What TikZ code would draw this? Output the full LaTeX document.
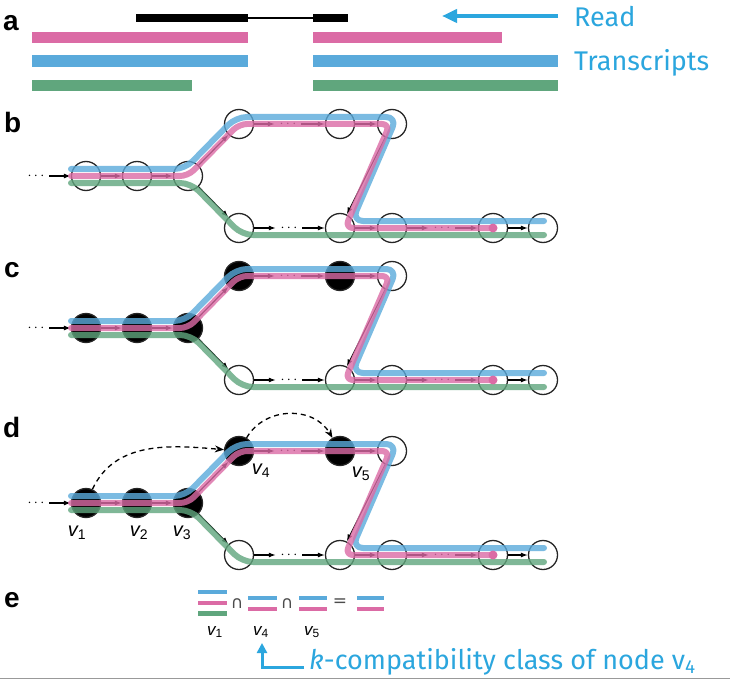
\documentclass[tikz,border=0pt]{standalone}
\usepackage{fontspec}
\setmainfont{Fira Sans}
\newfontfamily\hv{Liberation Sans}
\newfontfamily\dv{DejaVu Sans}
\usetikzlibrary{arrows.meta}
\definecolor{cpink}{RGB}{219,107,165}
\definecolor{cblue}{RGB}{90,170,219}
\definecolor{cgreen}{RGB}{96,166,125}
\definecolor{ctext}{RGB}{43,166,222}
\tikzset{
  gnode/.style={circle,draw=black!85,line width=1.3pt,minimum size=29pt,inner sep=0pt},
  fnode/.style={gnode,fill=black},
  arr/.style={line width=1.1pt,-{Latex[length=7pt,width=5pt]}},
  dotsnode/.style={inner sep=0pt,minimum width=26pt,minimum height=8pt,font=\fontsize{15}{15}\selectfont},
  track/.style={line width=6pt,line cap=round,line join=round,rounded corners=11pt,opacity=0.8},
  plabel/.style={font=\hv\bfseries\fontsize{28}{30}\selectfont,anchor=base west,inner sep=0pt},
  vlab/.style={font=\hv\itshape\fontsize{20}{20}\selectfont,inner sep=0pt},
  elab/.style={font=\hv\itshape\fontsize{17}{17}\selectfont,inner sep=0pt},
  bluetext/.style={font=\fontsize{27}{30}\selectfont,text=ctext,anchor=base west,inner sep=0pt},
  dasharr/.style={line width=1.3pt,dash pattern=on 5pt off 4pt,-{Stealth[length=9pt,width=7pt]}},
  minibar/.style={line width=4.5pt},
  symb/.style={font=\dv\fontsize{17}{17}\selectfont,inner sep=0pt,text=black!70},
}
\newcommand\gpanel[3]{%
\begin{scope}[shift={(0,#2)}]
  \node[#3] (#1n1) at (86,0) {};
  \node[#3] (#1n2) at (137,0) {};
  \node[#3] (#1n3) at (188,0) {};
  \node[#3] (#1t1) at (239,-52) {};
  \node[#3] (#1t2) at (340,-52) {};
  \node[gnode] (#1t3) at (392,-52) {};
  \node[gnode] (#1u1) at (239,52) {};
  \node[gnode] (#1u2) at (340,52) {};
  \node[gnode] (#1u3) at (392,52) {};
  \node[gnode] (#1u4) at (493,52) {};
  \node[gnode] (#1u5) at (543,52) {};
  \node[inner sep=0pt,font=\fontsize{15}{15}\selectfont] (#1d0) at (36,0) {$\cdots$};
  \coordinate (#1s0) at (49,0);
  \node[dotsnode] (#1dt) at (288,-52) {$\cdots$};
  \node[dotsnode] (#1du) at (289,52) {$\cdots$};
  \node[dotsnode] (#1dv) at (442,52) {$\cdots$};
  \draw[arr] (#1s0) -- (#1n1);
  \draw[arr] (#1n1) -- (#1n2);
  \draw[arr] (#1n2) -- (#1n3);
  \draw[arr] (#1n3) -- (#1t1);
  \draw[arr] (#1n3) -- (#1u1);
  \draw[arr] (#1t1) -- (#1dt.west);
  \draw[arr] (#1dt.east) -- (#1t2);
  \draw[arr] (#1t2) -- (#1t3);
  \draw[arr] (#1t3) -- (#1u2);
  \draw[arr] (#1u1) -- (#1du.west);
  \draw[arr] (#1du.east) -- (#1u2);
  \draw[arr] (#1u2) -- (#1u3);
  \draw[arr] (#1u3) -- (#1dv.west);
  \draw[arr] (#1dv.east) -- (#1u4);
  \draw[arr] (#1u4) -- (#1u5);
  \draw[track,cgreen] (71,7) -- (191,7) -- (242,59) -- (544,59);
  \draw[track,cblue] (71,-7) -- (185,-7) -- (236,-59) -- (397,-59) -- (352,45) -- (544,45);
  \draw[track,cpink,rounded corners=8pt] (71,0) -- (188,0) -- (239,-52) -- (390,-52) -- (345,52) -- (493,52);
  \fill[cpink] (493,52) circle (4.5);
\end{scope}}
\begin{document}
\begin{tikzpicture}[x=1pt,y=-1pt]
\useasboundingbox (0,0) rectangle (730,679);
\fill[white] (0,0) rectangle (730,679);
% panel a
\node[plabel] (la) at (3,31) {a};
\fill[black] (136,14) rectangle (248,22);
\fill[black] (313,14) rectangle (348,22);
\draw[line width=1.6pt] (248,18) -- (313,18);
\fill[cpink] (32,32) rectangle (248,43);
\fill[cpink] (313,32) rectangle (502,43);
\fill[cblue] (32,55) rectangle (248,67);
\fill[cblue] (313,55) rectangle (558,67);
\fill[cgreen] (32,80) rectangle (192,91);
\fill[cgreen] (313,80) rectangle (558,91);
\node[bluetext] (read) at (574,27) {Read};
\node[bluetext] (trans) at (574,71) {Transcripts};
\coordinate (rs) at (558,16);
\coordinate (re) at (442,16);
\draw[ctext,line width=4pt,-{Triangle[length=15pt,width=13pt]}] (rs) -- (re);
% panels b, c, d
\node[plabel] (lb) at (4,133) {b};
\gpanel{b}{176}{gnode}
\node[plabel] (lc) at (4,277) {c};
\gpanel{c}{328}{fnode}
\node[plabel] (ld) at (3,437) {d};
\gpanel{d}{503}{fnode}
\draw[dasharr] (dn1) to[out=65,in=175] (dt1);
\draw[dasharr] (dt1) to[out=60,in=120,looseness=1.1] (dt2);
\node[vlab] (v1) at (77,533) {v\textsubscript{\upshape 1}};
\node[vlab] (v2) at (139,533) {v\textsubscript{\upshape 2}};
\node[vlab] (v3) at (182,533) {v\textsubscript{\upshape 3}};
\node[vlab] (v4) at (261,471) {v\textsubscript{\upshape 4}};
\node[vlab] (v5) at (361,474) {v\textsubscript{\upshape 5}};
% panel e
\node[plabel] (le) at (4,607) {e};
\draw[minibar,cblue] (198,592) -- (227,592);
\draw[minibar,cpink] (198,603) -- (227,603);
\draw[minibar,cgreen] (198,613.5) -- (227,613.5);
\node[symb] (cap1) at (237,604) {∩};
\draw[minibar,cblue] (248,598) -- (277,598);
\draw[minibar,cpink] (248,609) -- (277,609);
\node[symb] (cap2) at (287,604) {∩};
\draw[minibar,cblue] (299,598) -- (327,598);
\draw[minibar,cpink] (299,609) -- (327,609);
\node[symb] (eq) at (340,603) {=};
\draw[minibar,cblue] (357,598) -- (384,598);
\draw[minibar,cpink] (357,609) -- (384,609);
\node[elab] (e1) at (215,632) {v\textsubscript{\upshape 1}};
\node[elab] (e4) at (261,632) {v\textsubscript{\upshape 4}};
\node[elab] (e5) at (312,632) {v\textsubscript{\upshape 5}};
\node[bluetext,font=\fontsize{27}{29}\selectfont] (cap) at (309,669) {\textit{k}-compatibility class of node v\textsubscript{4}};
\coordinate (ka) at (304,667);
\coordinate (kb) at (262,667);
\coordinate (kc) at (262,643);
\draw[ctext,line width=3pt,-{Triangle[length=10pt,width=10pt]}] (ka) -- (kb) -- (kc);
\draw[black!40,line width=1pt] (0,678) -- (730,678);
\end{tikzpicture}
\end{document}
